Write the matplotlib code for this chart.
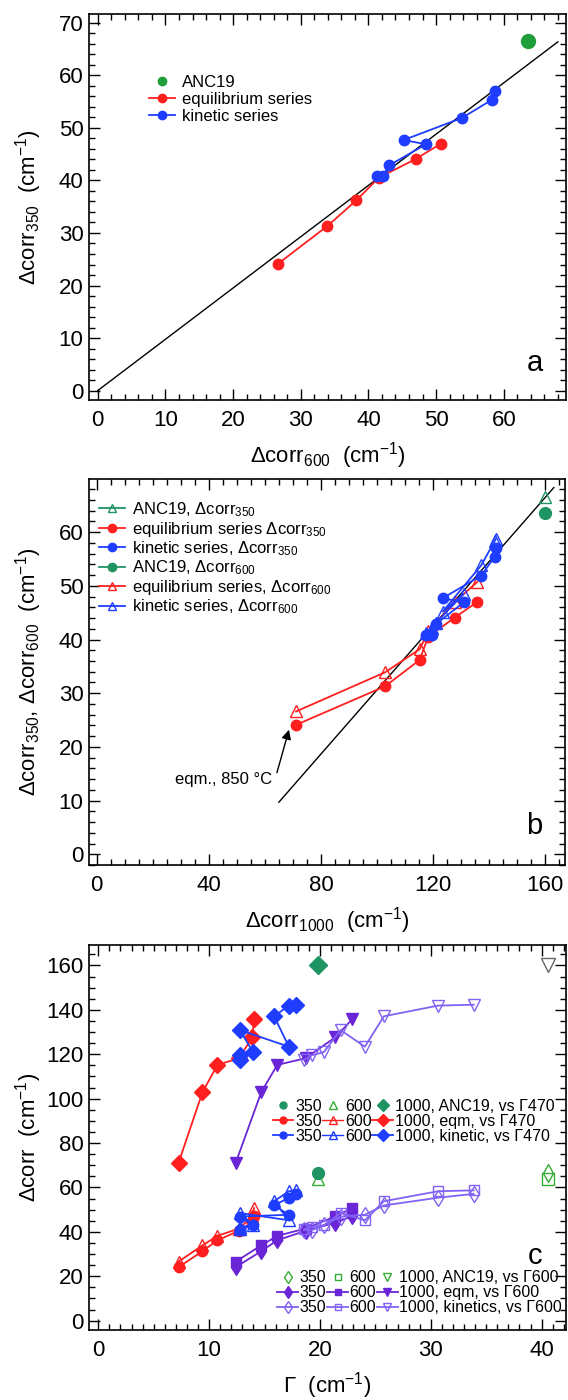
import numpy as np
import matplotlib
matplotlib.use('Agg')
import matplotlib.pyplot as plt
from matplotlib.lines import Line2D
from matplotlib.ticker import MultipleLocator

plt.rcParams['font.family'] = ['Liberation Sans', 'DejaVu Sans']
plt.rcParams['mathtext.fontset'] = 'custom'
plt.rcParams['mathtext.rm'] = 'Liberation Sans'
plt.rcParams['mathtext.it'] = 'Liberation Sans:italic'
plt.rcParams['mathtext.default'] = 'regular'

# ANC19 sample
anc_d350 = [66.6]
anc_d600 = [63.6]
anc_d1000 = [160.0]
anc_g470 = [19.8]
anc_g600 = [40.6]

# equilibrium series
eqm_d350 = [24.1, 31.3, 36.2, 40.5, 44.1, 47.0]
eqm_d600 = [26.6, 33.9, 38.2, 41.5, 47.0, 50.7]
eqm_d1000 = [71.1, 102.9, 115.2, 118.2, 127.7, 135.7]
eqm_g470 = [7.24, 9.4, 10.75, 12.7, 13.9, 14.05]
eqm_g600 = [12.4, 14.7, 16.15, 18.7, 21.4, 22.9]

# kinetic series
kin_d350 = [40.8, 40.8, 42.9, 46.9, 47.7, 51.9, 55.4, 57.1]
kin_d600 = [41.3, 42.1, 43.1, 48.5, 45.2, 53.8, 58.3, 58.7]
kin_d1000 = [117.5, 119.5, 121.0, 130.9, 123.4, 137.1, 141.9, 142.3]
kin_g470 = [12.76, 12.76, 13.96, 12.76, 17.2, 15.86, 17.2, 17.8]
kin_g600 = [18.56, 19.25, 20.36, 21.86, 24.05, 25.77, 30.66, 33.87]

# reference lines
line_a_x = [0, 68]
line_a_y = [0, 66.4]
line_b_x = [65, 163]
line_b_y = [9.7, 68.3]

red = '#ff1f1f'
blue = '#1f3dff'
green = '#1f9e3a'
teal = '#1f9463'
lgreen = '#34ad34'
pur1 = '#6a26d6'
pur2 = '#8262f4'

fs_tick = 16
fs_lab = 16

fig = plt.figure(figsize=(5.68, 14.0), dpi=100)
W, H = 568., 1400.


def make_ax(l, r, t, b):
    return fig.add_axes([l / W, 1 - b / H, (r - l) / W, (b - t) / H])


def style(ax, xmaj, xmin, ymaj, ymin):
    ax.xaxis.set_major_locator(MultipleLocator(xmaj))
    ax.xaxis.set_minor_locator(MultipleLocator(xmin))
    ax.yaxis.set_major_locator(MultipleLocator(ymaj))
    ax.yaxis.set_minor_locator(MultipleLocator(ymin))
    ax.tick_params(which='both', direction='in', top=True, right=True, width=1.0)
    ax.tick_params(which='major', length=8, labelsize=fs_tick)
    ax.tick_params(which='minor', length=4)
    ax.tick_params(axis='x', pad=7)
    ax.tick_params(axis='y', pad=4)
    for s in ax.spines.values():
        s.set_linewidth(1.2)
    ax.xaxis.set_label_coords(0.5, -0.105)
    ax.yaxis.set_label_coords(-0.094, 0.5)


lw = 1.3

# ---------------- panel a ----------------
ax = make_ax(89, 566, 14, 400)
ax.plot(line_a_x, line_a_y, 'k-', lw=1.0)
ax.plot(eqm_d600, eqm_d350, '-o', color=red, ms=7.5, lw=lw)
ax.plot(kin_d600, kin_d350, '-o', color=blue, ms=7.5, lw=lw)
ax.plot(anc_d600, anc_d350, 'o', color=green, ms=10)
ax.set_xlim(-1.3, 69.2)
ax.set_ylim(-1.8, 71.7)
style(ax, 10, 2, 10, 2)
ax.set_xlabel(r'$\Delta$corr$_{600}$  (cm$^{-1}$)', fontsize=fs_lab)
ax.set_ylabel(r'$\Delta$corr$_{350}$  (cm$^{-1}$)', fontsize=fs_lab)
ax.text(64.6, 5.2, 'a', fontsize=21, ha='center', va='center')
h = [Line2D([], [], color=green, marker='o', ls='none', ms=6),
     Line2D([], [], color=red, marker='o', lw=lw, ms=6),
     Line2D([], [], color=blue, marker='o', lw=lw, ms=6)]
ax.legend(h, ['ANC19', 'equilibrium series', 'kinetic series'], loc='upper left',
          bbox_to_anchor=(0.125, 0.842), frameon=False, fontsize=12,
          borderpad=0, borderaxespad=0, handlelength=1.6, handletextpad=0.4,
          labelspacing=0.12)

# ---------------- panel b ----------------
ax = make_ax(89, 565, 479, 865)
ax.plot(line_b_x, line_b_y, 'k-', lw=1.0)
ax.plot(eqm_d1000, eqm_d600, '-^', color=red, mfc='none', ms=8.5, lw=lw)
ax.plot(eqm_d1000, eqm_d350, '-o', color=red, ms=7.5, lw=lw)
ax.plot(kin_d1000, kin_d600, '-^', color=blue, mfc='none', ms=8.5, lw=lw)
ax.plot(kin_d1000, kin_d350, '-o', color=blue, ms=7.5, lw=lw)
ax.plot(anc_d1000, anc_d350, '^', color=teal, mfc='none', ms=9)
ax.plot(anc_d1000, anc_d600, 'o', color=teal, ms=8.5)
ax.text(62.5, 14.0, 'eqm., 850 °C', ha='right', va='center', fontsize=12)
ax.annotate('', xy=(68.6, 23.2), xytext=(64.3, 15.2),
            arrowprops=dict(arrowstyle='-|>', color='k', lw=1.0,
                            mutation_scale=14, shrinkA=0, shrinkB=0))
ax.set_xlim(-2.7, 167.0)
ax.set_ylim(-2.0, 69.9)
style(ax, 40, 5, 10, 2)
ax.set_xlabel(r'$\Delta$corr$_{1000}$  (cm$^{-1}$)', fontsize=fs_lab)
ax.set_ylabel(r'$\Delta$corr$_{350}$, $\Delta$corr$_{600}$  (cm$^{-1}$)', fontsize=fs_lab)
ax.text(156.1, 5.2, 'b', fontsize=21, ha='center', va='center')
h = [Line2D([], [], color=teal, marker='^', mfc='none', lw=lw, ms=6),
     Line2D([], [], color=red, marker='o', lw=lw, ms=6),
     Line2D([], [], color=blue, marker='o', lw=lw, ms=6),
     Line2D([], [], color=teal, marker='o', lw=lw, ms=6),
     Line2D([], [], color=red, marker='^', mfc='none', lw=lw, ms=6),
     Line2D([], [], color=blue, marker='^', mfc='none', lw=lw, ms=6)]
labs = [r'ANC19, $\Delta$corr$_{350}$',
        r'equilibrium series $\Delta$corr$_{350}$',
        r'kinetic series, $\Delta$corr$_{350}$',
        r'ANC19, $\Delta$corr$_{600}$',
        r'equilibrium series, $\Delta$corr$_{600}$',
        r'kinetic series, $\Delta$corr$_{600}$']
ax.legend(h, labs, loc='upper left', bbox_to_anchor=(0.02, 0.945), frameon=False,
          fontsize=12, borderpad=0, borderaxespad=0, handlelength=1.6,
          handletextpad=0.4, labelspacing=0.04)

# ---------------- panel c ----------------
ax = make_ax(89, 566, 945, 1330)
# delta corr 1000
ax.plot(eqm_g470, eqm_d1000, '-D', color=red, ms=8, lw=lw)
ax.plot(kin_g470, kin_d1000, '-D', color=blue, ms=8, lw=lw)
ax.plot(anc_g470, anc_d1000, 'D', color=teal, ms=9)
ax.plot(eqm_g600, eqm_d1000, '-v', color=pur1, ms=8.5, lw=lw)
ax.plot(kin_g600, kin_d1000, '-v', color=pur2, mfc='none', ms=9, lw=lw)
ax.plot(anc_g600, anc_d1000, 'v', color='#666666', mfc='none', ms=10)
# delta corr 350 / 600
ax.plot(eqm_g470, eqm_d600, '-^', color=red, mfc='none', ms=8, lw=lw)
ax.plot(eqm_g470, eqm_d350, '-o', color=red, ms=7.5, lw=lw)
ax.plot(kin_g470, kin_d600, '-^', color=blue, mfc='none', ms=8, lw=lw)
ax.plot(kin_g470, kin_d350, '-o', color=blue, ms=7.5, lw=lw)
ax.plot(anc_g470, anc_d600, '^', color=lgreen, mfc='none', ms=9)
ax.plot(anc_g470, anc_d350, 'o', color=teal, ms=8.5)
ax.plot(eqm_g600, eqm_d350, '-d', color=pur1, ms=8, lw=lw)
ax.plot(eqm_g600, eqm_d600, '-s', color=pur1, ms=7.5, lw=lw)
ax.plot(kin_g600, kin_d350, '-d', color=pur2, mfc='none', ms=8, lw=lw)
ax.plot(kin_g600, kin_d600, '-s', color=pur2, mfc='none', ms=7.5, lw=lw)
ax.plot(anc_g600, anc_d350, 'd', color=lgreen, mfc='none', ms=9)
ax.plot(anc_g600, anc_d600, 's', color=lgreen, mfc='none', ms=8)
ax.set_xlim(-0.84, 42.2)
ax.set_ylim(-4.2, 169.2)
style(ax, 10, 1, 20, 5)
ax.set_xlabel(r'Γ  (cm$^{-1}$)', fontsize=fs_lab)
ax.set_ylabel(r'$\Delta$corr  (cm$^{-1}$)', fontsize=fs_lab)
ax.text(39.4, 29, 'c', fontsize=21, ha='center', va='center')

ms_l = 5
fs_leg = 11.5
h1 = [Line2D([], [], color=teal, marker='o', ls='none', ms=ms_l),
      Line2D([], [], color=red, marker='o', lw=lw, ms=ms_l),
      Line2D([], [], color=blue, marker='o', lw=lw, ms=ms_l),
      Line2D([], [], color=lgreen, marker='^', mfc='none', ls='none', ms=ms_l + 1),
      Line2D([], [], color=red, marker='^', mfc='none', lw=1.0, ms=ms_l + 1),
      Line2D([], [], color=blue, marker='^', mfc='none', lw=1.0, ms=ms_l + 1),
      Line2D([], [], color=teal, marker='D', ls='none', ms=ms_l + 1),
      Line2D([], [], color=red, marker='D', lw=lw, ms=ms_l + 1),
      Line2D([], [], color=blue, marker='D', lw=lw, ms=ms_l + 1)]
l1 = ['350', '350', '350', '600', '600', '600',
      '1000, ANC19, vs Γ470', '1000, eqm, vs Γ470', '1000, kinetic, vs Γ470']
leg1 = ax.legend(h1, l1, ncol=3, loc='upper left', bbox_to_anchor=(0.385, 0.6),
                 frameon=False, fontsize=fs_leg, borderpad=0, borderaxespad=0,
                 handlelength=1.3, handletextpad=0.1, columnspacing=0.05,
                 labelspacing=0.0)
ax.add_artist(leg1)
h2 = [Line2D([], [], color=lgreen, marker='d', mfc='none', ls='none', ms=ms_l + 1),
      Line2D([], [], color=pur1, marker='d', lw=lw, ms=ms_l + 1),
      Line2D([], [], color=pur2, marker='d', mfc='none', lw=lw, ms=ms_l + 1),
      Line2D([], [], color=lgreen, marker='s', mfc='none', ls='none', ms=ms_l),
      Line2D([], [], color=pur1, marker='s', lw=lw, ms=ms_l),
      Line2D([], [], color=pur2, marker='s', mfc='none', lw=lw, ms=ms_l),
      Line2D([], [], color=lgreen, marker='v', mfc='none', ls='none', ms=ms_l + 1),
      Line2D([], [], color=pur1, marker='v', lw=lw, ms=ms_l + 1),
      Line2D([], [], color=pur2, marker='v', mfc='none', lw=lw, ms=ms_l + 1)]
l2 = ['350', '350', '350', '600', '600', '600',
      '1000, ANC19, vs Γ600', '1000, eqm, vs Γ600', '1000, kinetics, vs Γ600']
ax.legend(h2, l2, ncol=3, loc='upper left', bbox_to_anchor=(0.395, 0.155),
          frameon=False, fontsize=fs_leg, borderpad=0, borderaxespad=0,
          handlelength=1.3, handletextpad=0.1, columnspacing=0.05,
          labelspacing=0.0)

fig.savefig('out.png', dpi=100)
